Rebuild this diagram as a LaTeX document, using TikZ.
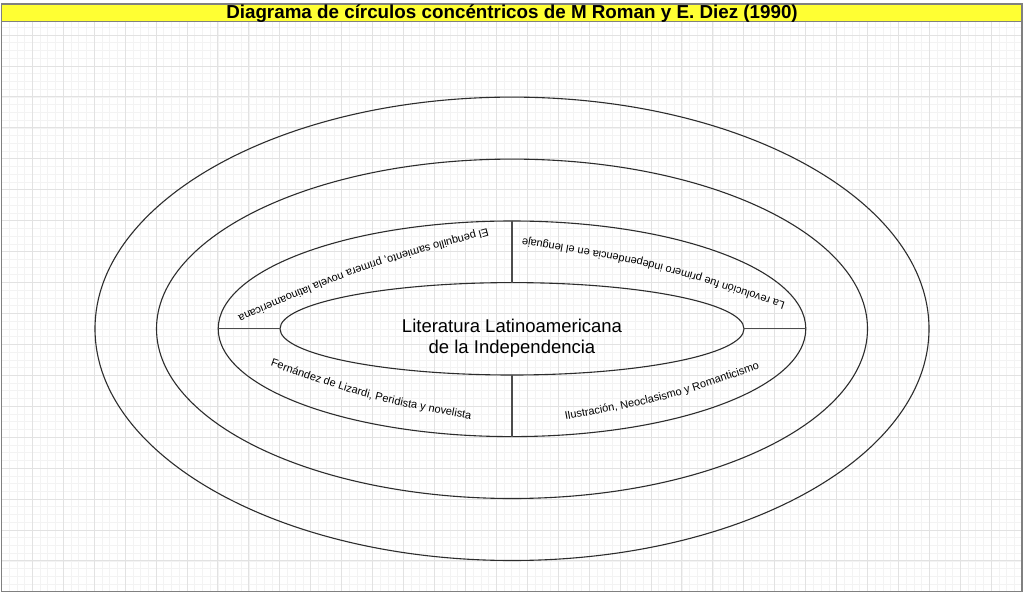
\documentclass[tikz,border=0pt]{standalone}
\usepackage{fontspec}
\newfontfamily\arialfont{Liberation Sans}
\usetikzlibrary{decorations.text}
\definecolor{titleyellow}{RGB}{255,255,51}
\definecolor{framegray}{RGB}{128,128,128}
\definecolor{gridmajor}{RGB}{226,226,226}
\definecolor{gridminor}{RGB}{243,243,243}
\definecolor{linedark}{RGB}{45,45,45}
\newcommand{\curvefont}{\arialfont\fontsize{11}{13}\selectfont}
\tikzset{
  minorgrid/.style={draw=gridminor, line width=0.6pt},
  majorgrid/.style={draw=gridmajor, line width=0.8pt},
  ringline/.style={draw=linedark, line width=1.1pt},
  divider/.style={draw=linedark!85, line width=1.3pt},
  curvedlabel/.style={decorate, decoration={text along path, text align=center, raise=-2.9pt, text={#1}}},
  centertext/.style={anchor=base, inner sep=0pt, font=\arialfont\fontsize{18.5}{21}\selectfont},
  titletext/.style={anchor=base, inner sep=0pt, font=\arialfont\bfseries\fontsize{18.8}{20}\selectfont},
}
\begin{document}
\begin{tikzpicture}[x=1pt,y=-1pt]
\useasboundingbox (0,0) rectangle (1024,594);
\fill[white] (0,0) rectangle (1024,594);
% grid
\foreach \i in {0,...,131} {\pgfmathsetmacro\gx{1.37+7.733*\i} \draw[minorgrid] (\gx,22) -- (\gx,591.5);}
\foreach \j in {3,...,75} {\pgfmathsetmacro\gy{4.1+7.733*\j} \draw[minorgrid] (1.5,\gy) -- (1022,\gy);}
\foreach \i in {1,...,32} {\pgfmathsetmacro\gx{1.37+30.93*\i} \draw[majorgrid] (\gx,22) -- (\gx,591.5);}
\foreach \j in {1,...,18} {\pgfmathsetmacro\gy{4.1+30.93*\j} \draw[majorgrid] (1.5,\gy) -- (1022,\gy);}
% frame and title bar
\draw[framegray, line width=1.5pt] (1.5,4) rectangle (1022,591.5);
\filldraw[fill=titleyellow, draw=framegray, line width=1.5pt] (1.5,4) rectangle (1022,21.7);
\node[titletext] (title) at (512,18.6) {Diagrama de círculos concéntricos de M Roman y E. Diez (1990)};
% concentric ellipses
\draw[ringline] (512,328.8) ellipse [x radius=417pt, y radius=231.7pt];
\draw[ringline] (512,328.8) ellipse [x radius=355.5pt, y radius=169.7pt];
\draw[ringline] (512,328.8) ellipse [x radius=293.8pt, y radius=107.8pt];
\draw[ringline] (512,328.8) ellipse [x radius=232pt, y radius=46.2pt];
% divider points
\coordinate (ringtop) at (512,221);
\coordinate (innertop) at (512,282.6);
\coordinate (ringbottom) at (512,436.6);
\coordinate (innerbottom) at (512,375);
\coordinate (ringleft) at (218.2,328.8);
\coordinate (innerleft) at (280,328.8);
\coordinate (ringright) at (805.8,328.8);
\coordinate (innerright) at (744,328.8);
\draw[divider] (ringtop) -- (innertop);
\draw[divider] (innerbottom) -- (ringbottom);
\draw[divider] (ringleft) -- (innerleft);
\draw[divider] (innerright) -- (ringright);
% centre text
\node[centertext] (centerone) at (512,332) {Literatura Latinoamericana};
\node[centertext] (centertwo) at (512,353) {de la Independencia};
% curved labels
\path[curvedlabel={|\curvefont|El penquillo samiento, primera novela latinoamericana}]
  (505.8,226.6) .. controls (360.6,265.8) .. (222.4,325.2);
\path[curvedlabel={|\curvefont|La revolución fue primero independencia en el lenguaje}]
  (798.8,310.1) .. controls (656.0,262.8) .. (507.4,238.7);
\path[curvedlabel={|\curvefont|Fernández de Lizardi, Peridista y novelista}]
  (255.6,357.5) .. controls (369.1,397.5) .. (487.4,419.5);
\path[curvedlabel={|\curvefont|Ilustración, Neoclasismo y Romanticismo}]
  (545.5,420.5) .. controls (663.9,399.0) .. (777.5,359.5);
\end{tikzpicture}
\end{document}
